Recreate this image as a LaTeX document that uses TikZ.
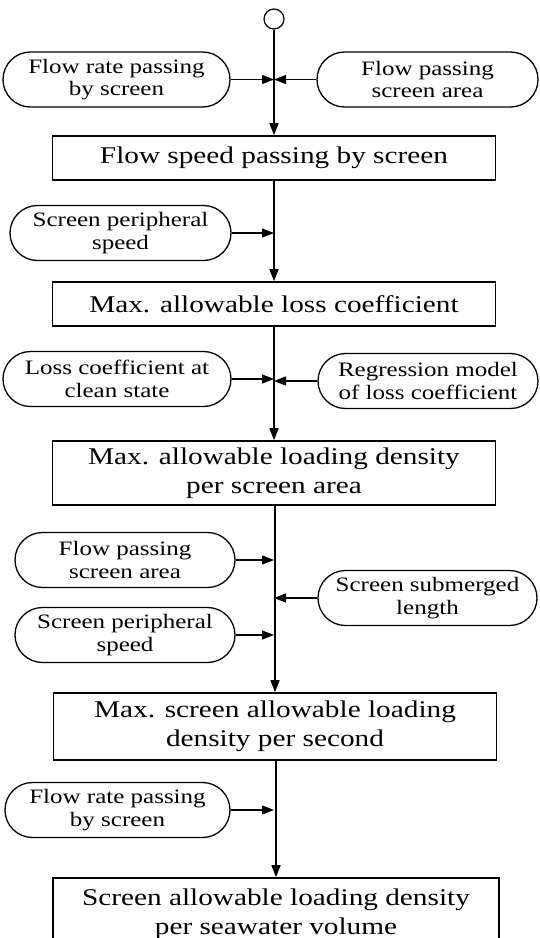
\documentclass[tikz,border=0pt]{standalone}
\usepackage{fontspec}
\newfontfamily\ff[FakeStretch=1.22]{Liberation Serif}
\usetikzlibrary{shapes.misc,arrows.meta}
\begin{document}
\begin{tikzpicture}[x=1pt,y=-1pt,
  stepbox/.style={draw,line width=1.6pt,rectangle,minimum width=443pt,inner sep=0pt,align=center,
    font=\ff\fontsize{24}{29}\selectfont},
  inbox/.style={draw,line width=1.3pt,rounded rectangle,minimum height=55pt,inner sep=0pt,align=center,
    font=\ff\fontsize{20.5}{22.5}\selectfont},
  flow/.style={line width=1.5pt,-{Triangle[length=12pt,width=9pt]}},
  feed/.style={line width=1.1pt,-{Triangle[length=12pt,width=9pt]}}]
\useasboundingbox (0,0) rectangle (539,938);
% start
\node[draw,circle,line width=1.2pt,minimum size=20pt,inner sep=0pt] (s) at (274,19) {};
% boxes
\node[stepbox,minimum height=44pt] (b1) at (274,158) {Flow speed passing by screen};
\node[stepbox,minimum height=44pt] (b2) at (274,304) {Max. allowable loss coefficient};
\node[stepbox,minimum height=64pt] (b3) at (274,473) {Max. allowable loading density\\per screen area};
\node[stepbox,minimum height=67pt] (b4) at (275,726.5) {Max. screen allowable loading\\density per second};
\node[stepbox,minimum height=72pt,minimum width=446pt] (b5) at (276,914) {Screen allowable loading density\\per seawater volume};
% inputs
\node[inbox,minimum width=227pt] (l1) at (116.5,79.5) {Flow rate passing\\by screen};
\node[inbox,minimum width=221pt] (r1) at (427.5,79.5) {Flow passing\\screen area};
\node[inbox,minimum width=221pt] (l2) at (120.5,233) {Screen peripheral\\speed};
\node[inbox,minimum width=228pt] (l3) at (117,379) {Loss coefficient at\\clean state};
\node[inbox,minimum width=220pt] (r3) at (428,381) {Regression model\\of loss coefficient};
\node[inbox,minimum width=220pt] (l4) at (125,560) {Flow passing\\screen area};
\node[inbox,minimum width=219pt] (r4) at (427.5,598) {Screen submerged\\length};
\node[inbox,minimum width=220pt] (l5) at (125,635) {Screen peripheral\\speed};
\node[inbox,minimum width=225pt] (l6) at (117.5,810) {Flow rate passing\\by screen};
% main flow
\draw[flow] (s) -- (b1);
\draw[flow] (b1) -- (b2);
\draw[flow] (b2) -- (b3);
\draw[flow] (b3.south -| b4.north) -- (b4);
\draw[flow] (b4.south -| b5.north) -- (b5);
% feeds
\coordinate (x) at (274,0);
\draw[feed] (l1.east) -- (l1.east -| x);
\draw[feed] (r1.west) -- (r1.west -| x);
\draw[feed] (l2.east) -- (l2.east -| x);
\draw[feed] (l3.east) -- (l3.east -| x);
\draw[feed] (r3.west) -- (r3.west -| x);
\draw[feed] (l4.east) -- (l4.east -| x);
\draw[feed] (r4.west) -- (r4.west -| x);
\draw[feed] (l5.east) -- (l5.east -| x);
\draw[feed] (l6.east) -- (l6.east -| x);
\end{tikzpicture}
\end{document}
